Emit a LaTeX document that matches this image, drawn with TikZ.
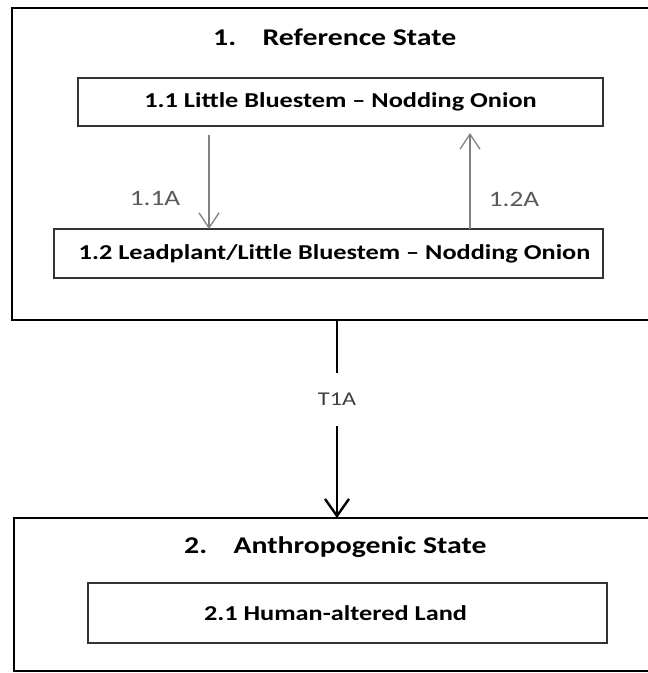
\documentclass[tikz,border=0pt]{standalone}
\usepackage{fontspec}
\setmainfont[FakeStretch=1.24]{Carlito}
\usetikzlibrary{arrows.meta}

\begin{document}
\begin{tikzpicture}[x=1pt,y=-1pt,
            state box/.style={draw=black,line width=2.6pt,inner sep=0,outer sep=0},
            phase box/.style={draw=black!80,line width=1.8pt,fill=white,inner sep=0,outer sep=0,
                             font=\bfseries\fontsize{21.2}{24}\selectfont},
            title/.style={font=\bfseries\fontsize{24}{28}\selectfont,inner sep=0},
            pathway/.style={draw=black!50,line width=1.3pt,-{Straight Barb[length=15pt,width=20pt,line width=1.3pt]}},
            pathway label/.style={text=black!65,font=\fontsize{22}{24}\selectfont},
            transition/.style={draw=black,line width=2.6pt,-{Straight Barb[length=17pt,width=24pt,line width=2.4pt]}}]
            \useasboundingbox (0,0) rectangle (648,673);
            \clip (0,0) rectangle (648,673);
            \fill[white] (0,0) rectangle (648,673);
            %==================
            \node[state box,minimum width=648pt,minimum height=312pt] (s1) at (336,164){};
            \node[state box,minimum width=646pt,minimum height=153pt] (s2) at (337,594.5){};
            %==================
            \node[title,anchor=west] (t1) at (213,37){1.\hspace{1.1em}Reference State};
            \node[title,anchor=west] (t2) at (184,547){2.\hspace{1.1em}Anthropogenic State};
            %==================
            \node[phase box,minimum width=525pt,minimum height=48pt] (p11) at (340.5,102){1.1 Little Bluestem -- Nodding Onion};
            \node[phase box,minimum width=549pt,minimum height=49pt] (p12) at (328.5,253.5){\rule{12pt}{0pt}1.2 Leadplant/Little Bluestem -- Nodding Onion};
            \node[phase box,minimum width=519pt,minimum height=60pt] (p21) at (347.5,613){2.1 Human-altered Land\rule{24pt}{0pt}};
            % ===================
            \draw[pathway,shorten <=9pt] ([xshift=-131.5pt]p11.south) -- ([xshift=-119.5pt]p12.north);
            \draw[pathway,shorten >=7pt] ([xshift=141.5pt]p12.north) -- ([xshift=129.5pt]p11.south);
            \node[pathway label] (l11) at (155,199){1.1A};
            \node[pathway label] (l12) at (514,199){1.2A};
            % ===================
            \draw[transition] ([xshift=1pt]s1.south) -- node[pos=0.4,fill=white,text=black!75,
                font=\fontsize{19.5}{24}\selectfont,minimum height=53pt,inner sep=0] (tr) {T1A} (s2.north);
        \end{tikzpicture}
\end{document}
